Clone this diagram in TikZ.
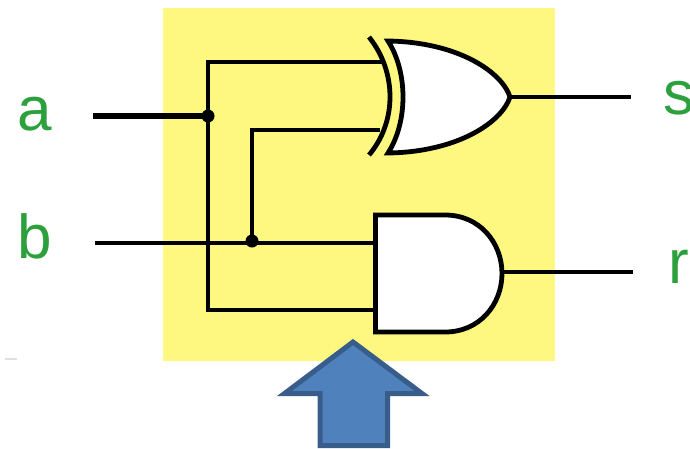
\documentclass[tikz,border=0pt]{standalone}
\usepackage{fontspec}
\setmainfont{Liberation Sans}
\definecolor{bgy}{HTML}{FFF880}
\definecolor{lblg}{HTML}{2CA03C}
\definecolor{arrf}{HTML}{4F81BD}
\definecolor{arrd}{HTML}{385D8A}
\tikzset{
  wire/.style={line width=3.7pt,black},
  gate/.style={line width=4.8pt,black,fill=white,line join=miter},
  junction/.style={circle,fill=black,inner sep=0pt,minimum size=13pt},
  lbl/.style={text=lblg,font=\fontsize{62}{62}\selectfont,inner sep=0pt,anchor=base west},
}
\begin{document}
\begin{tikzpicture}[x=1pt,y=-1pt]
\useasboundingbox (0,0) rectangle (690,448);
\fill[bgy] (163,8) rectangle (555,361);
\fill[black!12] (5,358) rectangle (17,360);
% labels
\node[lbl] (la) at (17,130) {a};
\node[lbl] (lb) at (17,258) {b};
\node[lbl] (ls) at (663,114) {s};
\node[lbl] (lr) at (668,283) {r};
% points
\coordinate (ain) at (93,116);
\coordinate (bin) at (95,243);
\coordinate (sout) at (631,97);
\coordinate (rout) at (633,272);
\node[junction] (ja) at (208,116) {};
\node[junction] (jb) at (252,241) {};
\coordinate (xt) at (208,62);
\coordinate (xb) at (252,130);
\coordinate (ab) at (208,310);
\coordinate (xia) at (385,62);
\coordinate (xib) at (380,130);
\coordinate (aia) at (376,243);
\coordinate (aib) at (376,310);
\coordinate (xo) at (510,97);
\coordinate (ao) at (503,272);
% wires
\draw[line width=5.5pt] (ain) -- (ja.center);
\draw[wire] (xia) -- (xt) -- (ab) -- (aib);
\draw[wire] (bin) -- (aia);
\draw[wire] (jb.center) -- (xb) -- (xib);
\draw[wire] (xo) -- (sout);
\draw[wire] (ao) -- (rout);
% XOR gate
\draw[gate] (xo) .. controls (502,72) and (458,42) .. (388,41)
  .. controls (408,72) and (408,122) .. (388,153)
  .. controls (458,152) and (502,122) .. cycle;
\draw[line width=4.8pt,line cap=butt] (369,37) .. controls (397,72) and (397,122) .. (369,155);
% AND gate
\draw[gate] (375.5,215) -- (445,215) .. controls (480,215) and (502,243) .. (502,273.5)
  .. controls (502,304) and (480,332) .. (445,332) -- (375.5,332) -- cycle;
% arrow
\draw[line width=5pt,fill=arrf,draw=arrd,miter limit=10] (353,342) -- (284.5,393.5) -- (320,393.5) -- (320,445.5) -- (387.5,445.5) -- (387.5,393.5) -- (422,393.5) -- cycle;
\end{tikzpicture}
\end{document}
